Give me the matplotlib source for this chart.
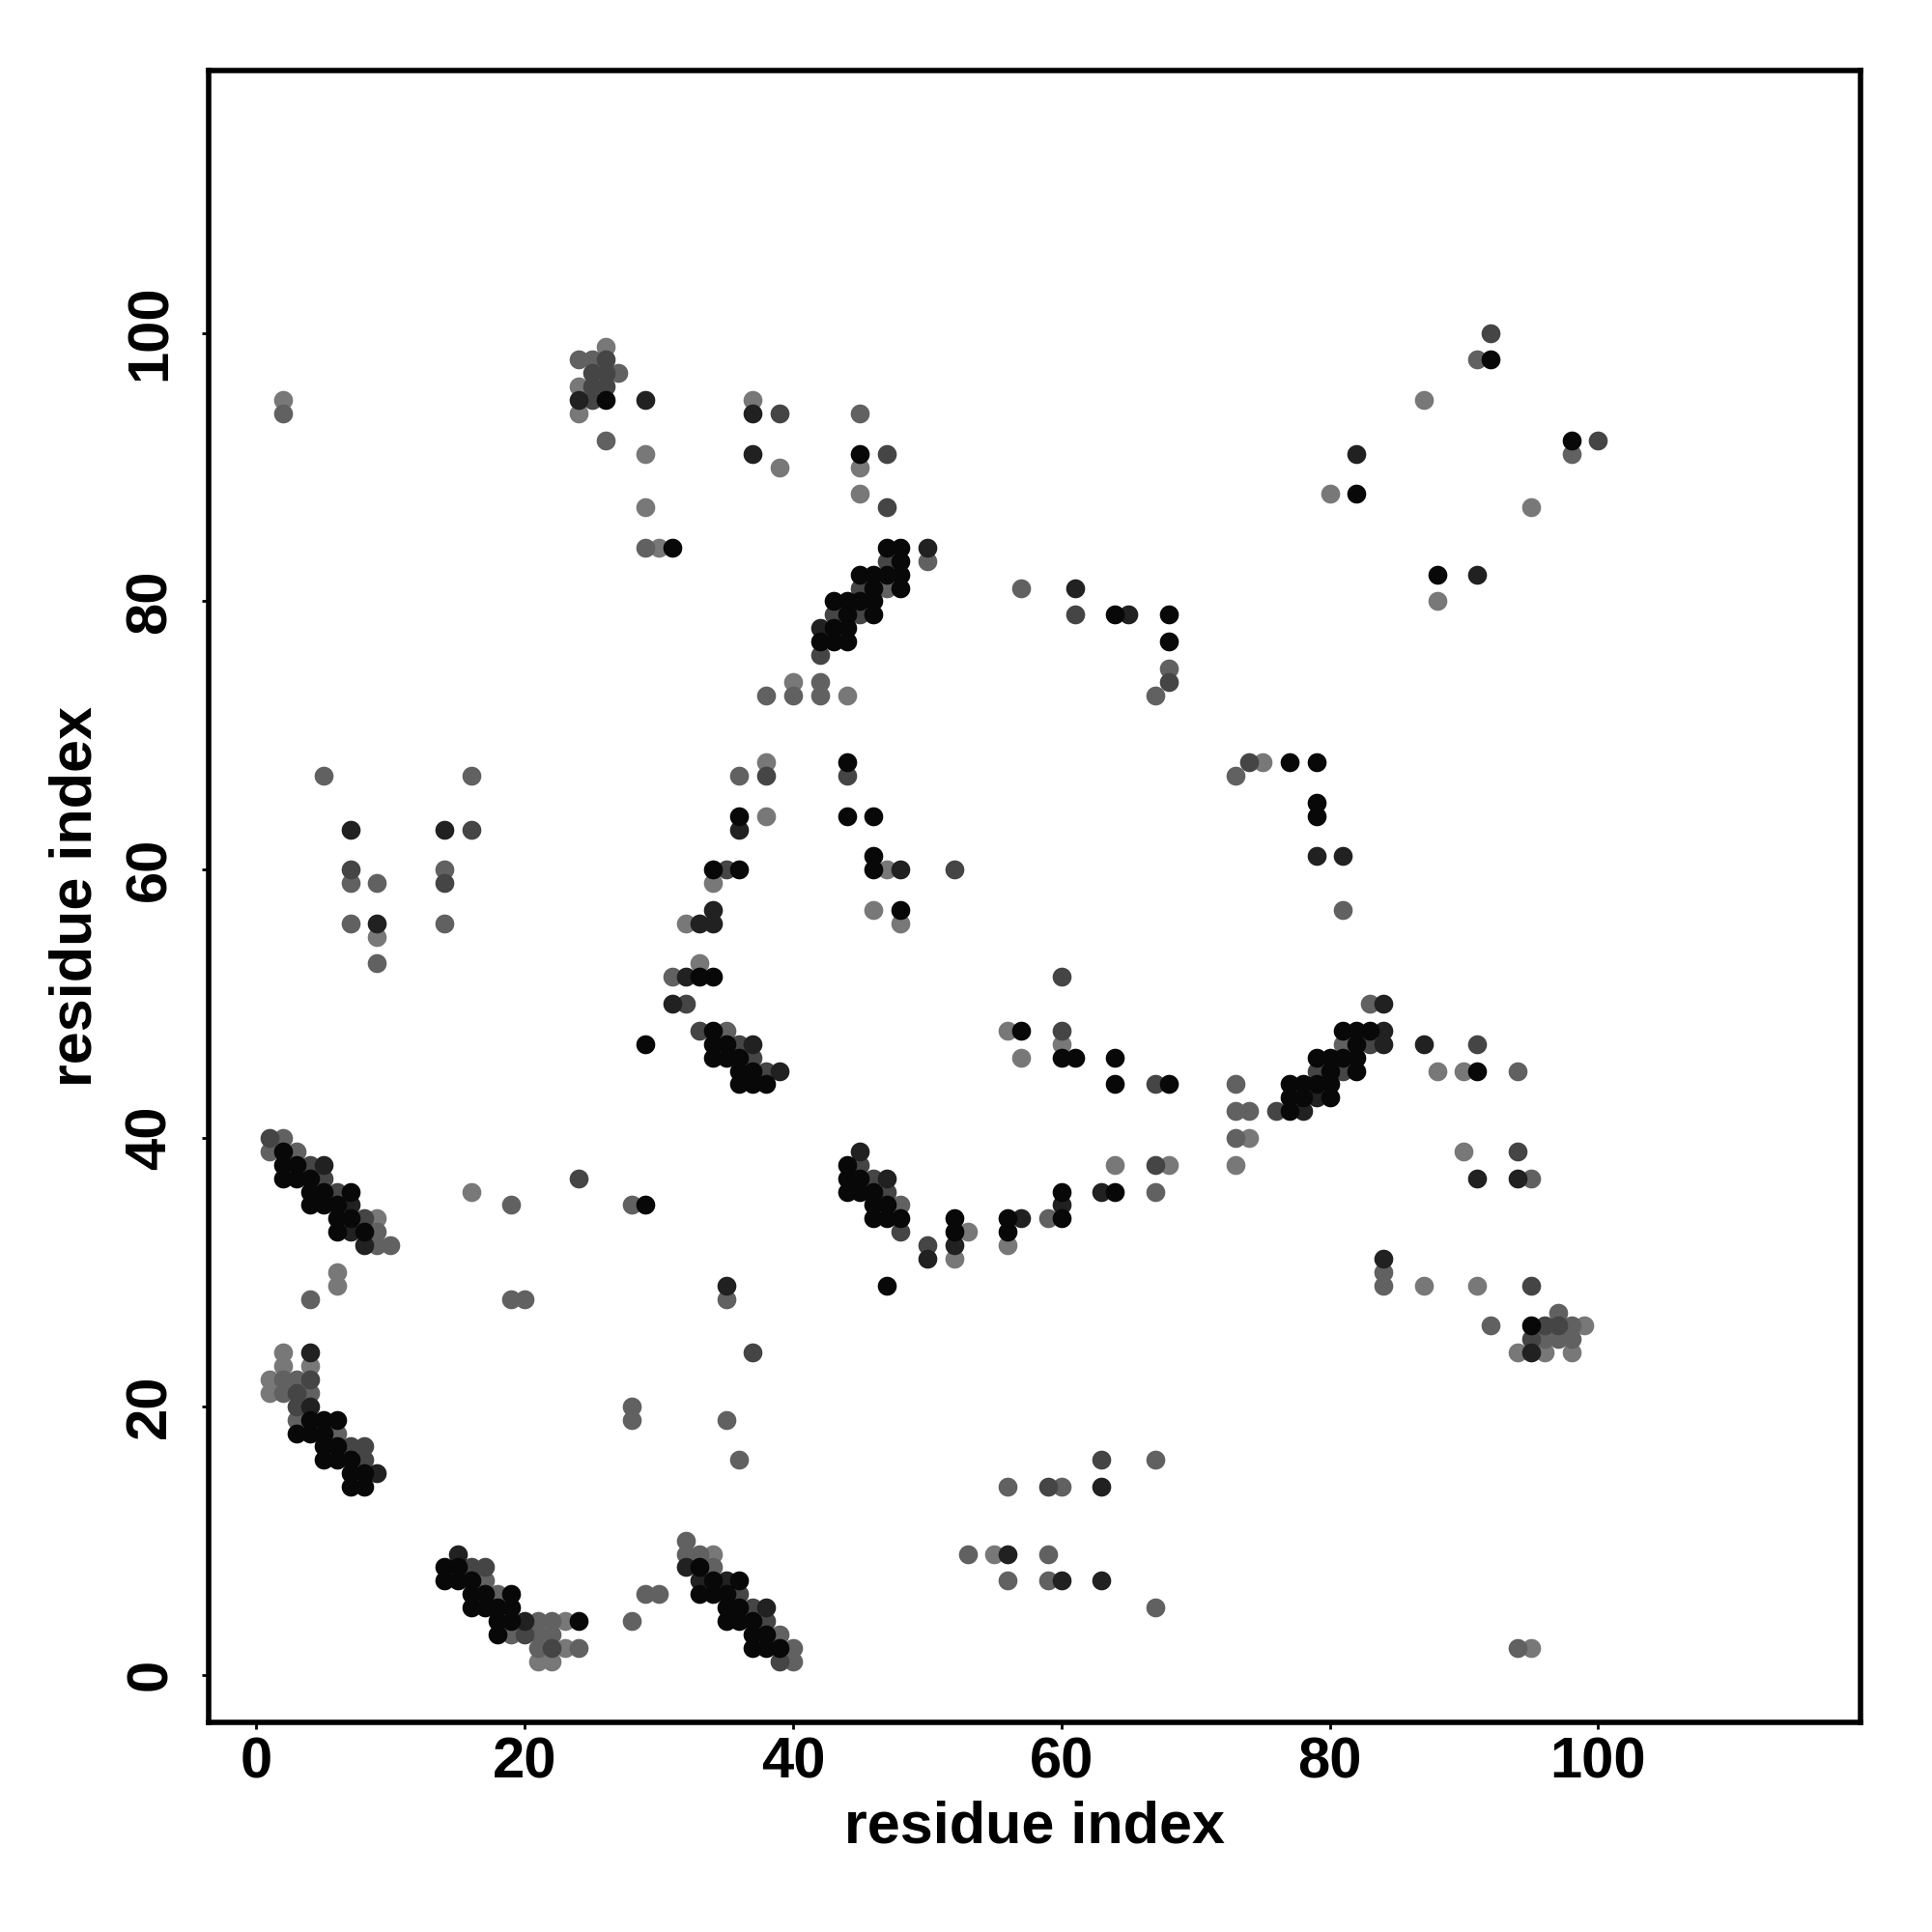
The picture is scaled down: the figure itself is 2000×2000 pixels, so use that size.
import numpy as np
import matplotlib
matplotlib.use('Agg')
import matplotlib.pyplot as plt

# contact points grouped by grey level (residue i, residue j)
black_x = [26, 31, 45, 47, 48, 48, 45, 46, 47, 48, 46, 48, 43, 44, 45, 46, 44, 46, 43, 44, 42, 43, 44,
           64, 92, 82, 98, 88, 68, 68,
           33, 34, 29, 34, 34, 35, 34, 35, 36, 36, 37, 36, 37, 38,
           44, 36, 44, 46, 34, 36, 46, 46, 48, 57, 60, 61, 64, 64,
           44, 44, 45, 44, 45, 46, 46, 47, 46, 47, 48, 60, 64, 52, 52, 56, 56, 60, 47,
           33, 34, 36, 33, 34, 35, 35, 36, 35, 36, 37, 37, 38, 37, 38, 39,
           77, 79, 79, 79, 81, 82, 83, 82, 79, 80, 81, 82, 80, 82, 91,
           77, 78, 79, 80, 68, 77, 78, 80, 77, 95,
           2, 2, 3, 2, 3, 4, 4, 5, 7, 4, 5, 6, 6, 7, 6, 8, 29,
           4, 5, 6, 3, 4, 5, 5, 6, 5, 6, 7, 7, 8, 7, 8,
           14, 15, 14, 15, 16, 16, 17, 19, 16, 17, 18, 19, 18, 19, 24, 18]
black_y = [95, 84, 91, 84, 84, 83, 82, 82, 82, 82, 81, 81, 80, 80, 80, 80, 79, 79, 78, 78, 77, 77, 77,
           79, 98, 88, 92, 82, 79, 77,
           52, 52, 47, 48, 47, 47, 46, 46, 46, 45, 45, 44, 44, 44,
           68, 64, 64, 64, 60, 60, 61, 60, 57, 48, 46, 46, 46, 44,
           38, 37, 37, 36, 36, 36, 35, 35, 34, 34, 34, 36, 36, 34, 33, 34, 33, 34, 29,
           8, 7, 7, 6, 6, 6, 5, 5, 4, 4, 4, 3, 3, 2, 2, 2,
           68, 68, 65, 64, 48, 48, 48, 47, 46, 46, 46, 46, 45, 45, 45,
           44, 44, 44, 44, 44, 43, 43, 43, 42, 26,
           39, 38, 38, 37, 37, 37, 36, 36, 36, 35, 35, 35, 34, 34, 33, 33, 35,
           19, 19, 19, 18, 18, 18, 17, 17, 16, 16, 16, 15, 15, 14, 14,
           8, 8, 7, 7, 7, 6, 6, 6, 5, 5, 5, 5, 4, 4, 4, 3]

dark_x = [24, 29, 37, 37, 50, 42, 61, 65, 82, 91,
          7, 14, 9, 33, 34, 34, 32, 31, 37, 39, 36, 48,
          45, 47, 60, 63, 52, 50, 57, 35, 63, 56, 60, 63,
          32, 33, 35, 38,
          79, 81, 84, 84, 84, 87, 79, 78, 91, 94,
          84, 95,
          5, 7, 7, 8, 4, 4, 9, 15, 20]
dark_y = [95, 95, 94, 91, 84, 78, 81, 79, 91, 82,
          63, 63, 56, 56, 56, 57, 52, 50, 47, 45, 63, 60,
          39, 37, 35, 36, 32, 31, 34, 29, 14, 9, 7, 7,
          8, 7, 7, 5,
          61, 61, 50, 48, 47, 47, 43, 42, 37, 37,
          31, 24,
          38, 35, 33, 32, 24, 20, 15, 9, 4]

dgrey_x = [26, 25, 26, 25, 26, 25, 39, 47, 47, 47, 45, 43, 45, 42, 61,
           92, 100, 68,
           16, 7, 14, 32, 33, 36, 37, 38,
           38, 44, 35, 52, 60, 60, 67,
           45, 46, 47, 48, 67, 50, 37, 63, 59,
           36, 37, 38, 39,
           74, 83, 91, 79, 81, 76, 94,
           95, 96, 97, 95,
           1, 4, 5, 6, 8, 4, 3, 3, 7, 8, 8, 24,
           16, 17, 20, 22]
dgrey_y = [98, 97, 97, 96, 96, 95, 94, 91, 87, 83, 81, 79, 79, 76, 79,
           100, 92, 74,
           63, 60, 59, 50, 48, 47, 46, 45,
           67, 67, 60, 60, 52, 48, 44,
           38, 37, 36, 33, 38, 32, 24, 16, 14,
           6, 5, 4, 1,
           68, 47, 47, 45, 45, 42, 39,
           29, 26, 26, 25,
           40, 38, 37, 36, 34, 22, 21, 20, 17, 17, 16, 37,
           8, 8, 3, 2]

grey_x = [2, 24, 25, 27, 26, 29, 45, 50, 47, 42, 38, 40, 42, 57, 67,
          91, 98, 68,
          5, 16, 7, 9, 14, 7, 14, 9, 31, 35,
          36, 48, 67, 59, 35, 35, 36, 67, 56, 60, 53, 59, 56, 59, 67,
          32, 32, 33, 34, 39, 40, 40,
          73, 81, 83, 81, 94, 73, 73, 74, 73, 95,
          84, 84, 92, 98, 97, 96, 97, 98, 94,
          2, 1, 3, 9, 9, 10, 19, 28, 4, 19, 20,
          2, 3, 2, 4, 3, 6, 28, 28,
          17, 18, 21, 22, 19, 21, 22, 21, 24, 29, 30, 28]
grey_y = [94, 98, 98, 97, 92, 84, 94, 83, 81, 74, 73, 73, 73, 81, 73,
          98, 91, 75,
          67, 67, 59, 59, 60, 56, 56, 53, 52, 48,
          67, 35, 36, 34, 28, 19, 16, 16, 14, 14, 9, 9, 7, 7, 5,
          10, 9, 9, 8, 3, 2, 1,
          67, 57, 50, 47, 45, 44, 42, 42, 40, 37,
          30, 29, 26, 26, 27, 25, 25, 25, 2,
          40, 39, 39, 33, 32, 32, 35, 35, 28, 28, 28,
          22, 22, 21, 21, 19, 18, 20, 19,
          7, 6, 4, 4, 3, 3, 3, 2, 2, 6, 6, 4]

light_x = [2, 26, 24, 24, 29, 29, 30, 37, 39, 45, 45, 40, 44,
           87, 80, 95, 88,
           9, 32, 33, 38, 38, 34, 47, 46, 48, 56, 60, 57,
           64, 68, 53, 52, 56, 55, 34,
           75, 88, 90, 74, 73, 90,
           87, 91, 99, 94, 96, 98, 95,
           9, 16, 6, 6,
           2, 2, 4, 1, 1, 23, 23, 21, 22]
light_y = [95, 99, 96, 94, 91, 87, 84, 95, 90, 90, 88, 74, 73,
           95, 88, 87, 80,
           55, 56, 53, 68, 64, 59, 60, 57, 56, 48, 47, 46,
           38, 38, 33, 31, 32, 9, 9,
           68, 45, 45, 40, 38, 39,
           29, 29, 26, 24, 24, 24, 2,
           34, 36, 30, 29,
           24, 23, 23, 22, 21, 4, 2, 1, 1]

groups = [(light_x, light_y, '0.47'),
          (grey_x, grey_y, '0.38'),
          (dgrey_x, dgrey_y, '0.27'),
          (dark_x, dark_y, '0.13'),
          (black_x, black_y, '0.03')]

plt.rcParams['font.family'] = ['Liberation Sans', 'DejaVu Sans']
plt.rcParams['font.weight'] = 'bold'

fig = plt.figure(figsize=(10, 10), dpi=200)
ax = fig.add_axes([0.108, 0.1085, 0.855, 0.855])

for gx, gy, col in groups:
    ax.scatter(gx, gy, s=50, c=col, linewidths=0, zorder=3)

ax.set_xlim(-3.56, 119.56)
ax.set_ylim(-3.56, 119.56)
ax.set_xticks(np.arange(0, 101, 20))
ax.set_yticks(np.arange(0, 101, 20))
for sp in ax.spines.values():
    sp.set_linewidth(2.0)
ax.tick_params(axis='both', length=2.6, width=1.0, labelsize=21.5)
ax.tick_params(axis='x', pad=2.5)
ax.tick_params(axis='y', pad=9)
plt.setp(ax.get_yticklabels(), rotation=90, va='center')

ax.set_xlabel('residue index', fontsize=22, fontweight='bold')
ax.set_ylabel('residue index', fontsize=22, fontweight='bold')
ax.xaxis.label.set_va('center')
ax.yaxis.label.set_va('center')
ax.xaxis.set_label_coords(0.5, -0.0637)
ax.yaxis.set_label_coords(-0.0799, 0.5)

plt.savefig('out.png', dpi=200)
